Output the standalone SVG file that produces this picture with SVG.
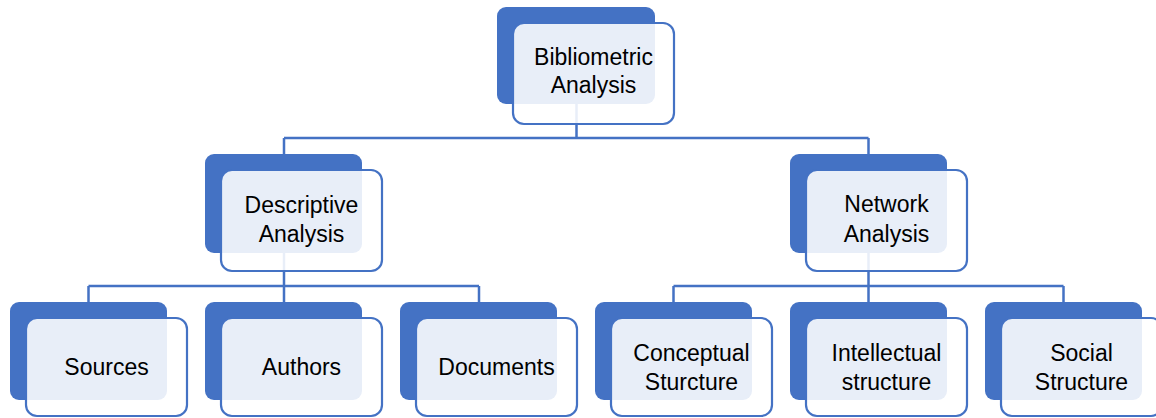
<svg xmlns="http://www.w3.org/2000/svg" width="1156" height="418" viewBox="0 0 1156 418">
<style>
.back{fill:#4472C4}
.front{fill:#ffffff;fill-opacity:0.88;stroke:#4472C4;stroke-width:2.2}
.conn{fill:none;stroke:#4472C4;stroke-width:2.5}
text{font-family:"Liberation Sans",Arial,sans-serif;font-size:23px;fill:#000000;text-anchor:middle}
</style>
<rect width="1156" height="418" fill="#ffffff"/>
<g id="connectors">
<path class="conn" d="M576.5 104V138M284 138H868.5M284 138V154M868.5 138V154"/>
<path class="conn" d="M284 253V286M88.5 286H479M88.5 286V302M284 286V302M479 286V302"/>
<path class="conn" d="M868.5 253V286M673.5 286H1063.5M673.5 286V302M868.5 286V302M1063.5 286V302"/>
</g>
<g id="bibliometric">
<rect class="back" x="497" y="7" width="158" height="97" rx="9"/>
<rect class="front" x="513" y="23" width="161" height="101" rx="11"/>
<text x="593.5" y="65">Bibliometric</text>
<text x="593.5" y="93">Analysis</text>
</g>
<g id="descriptive">
<rect class="back" x="205" y="154" width="157" height="99" rx="9"/>
<rect class="front" x="221" y="170" width="161" height="101" rx="11"/>
<text x="301.5" y="213">Descriptive</text>
<text x="301.5" y="242">Analysis</text>
</g>
<g id="network">
<rect class="back" x="790" y="154" width="157" height="99" rx="9"/>
<rect class="front" x="806" y="170" width="161" height="101" rx="11"/>
<text x="886.5" y="212">Network</text>
<text x="886.5" y="242">Analysis</text>
</g>
<g id="sources">
<rect class="back" x="10" y="302" width="157" height="98" rx="9"/>
<rect class="front" x="26" y="318" width="161" height="98" rx="11"/>
<text x="106.5" y="375">Sources</text>
</g>
<g id="authors">
<rect class="back" x="205" y="302" width="157" height="98" rx="9"/>
<rect class="front" x="221" y="318" width="161" height="98" rx="11"/>
<text x="301.5" y="375">Authors</text>
</g>
<g id="documents">
<rect class="back" x="400" y="302" width="157" height="98" rx="9"/>
<rect class="front" x="416" y="318" width="161" height="98" rx="11"/>
<text x="496.5" y="375">Documents</text>
</g>
<g id="conceptual">
<rect class="back" x="595" y="302" width="157" height="98" rx="9"/>
<rect class="front" x="611" y="318" width="161" height="98" rx="11"/>
<text x="691.5" y="361">Conceptual</text>
<text x="691.5" y="390">Sturcture</text>
</g>
<g id="intellectual">
<rect class="back" x="790" y="302" width="157" height="98" rx="9"/>
<rect class="front" x="806" y="318" width="161" height="98" rx="11"/>
<text x="886.5" y="361">Intellectual</text>
<text x="886.5" y="390">structure</text>
</g>
<g id="social">
<rect class="back" x="985" y="302" width="157" height="98" rx="9"/>
<rect class="front" x="1001" y="318" width="161" height="98" rx="11"/>
<text x="1081.5" y="361">Social</text>
<text x="1081.5" y="390">Structure</text>
</g>
</svg>
